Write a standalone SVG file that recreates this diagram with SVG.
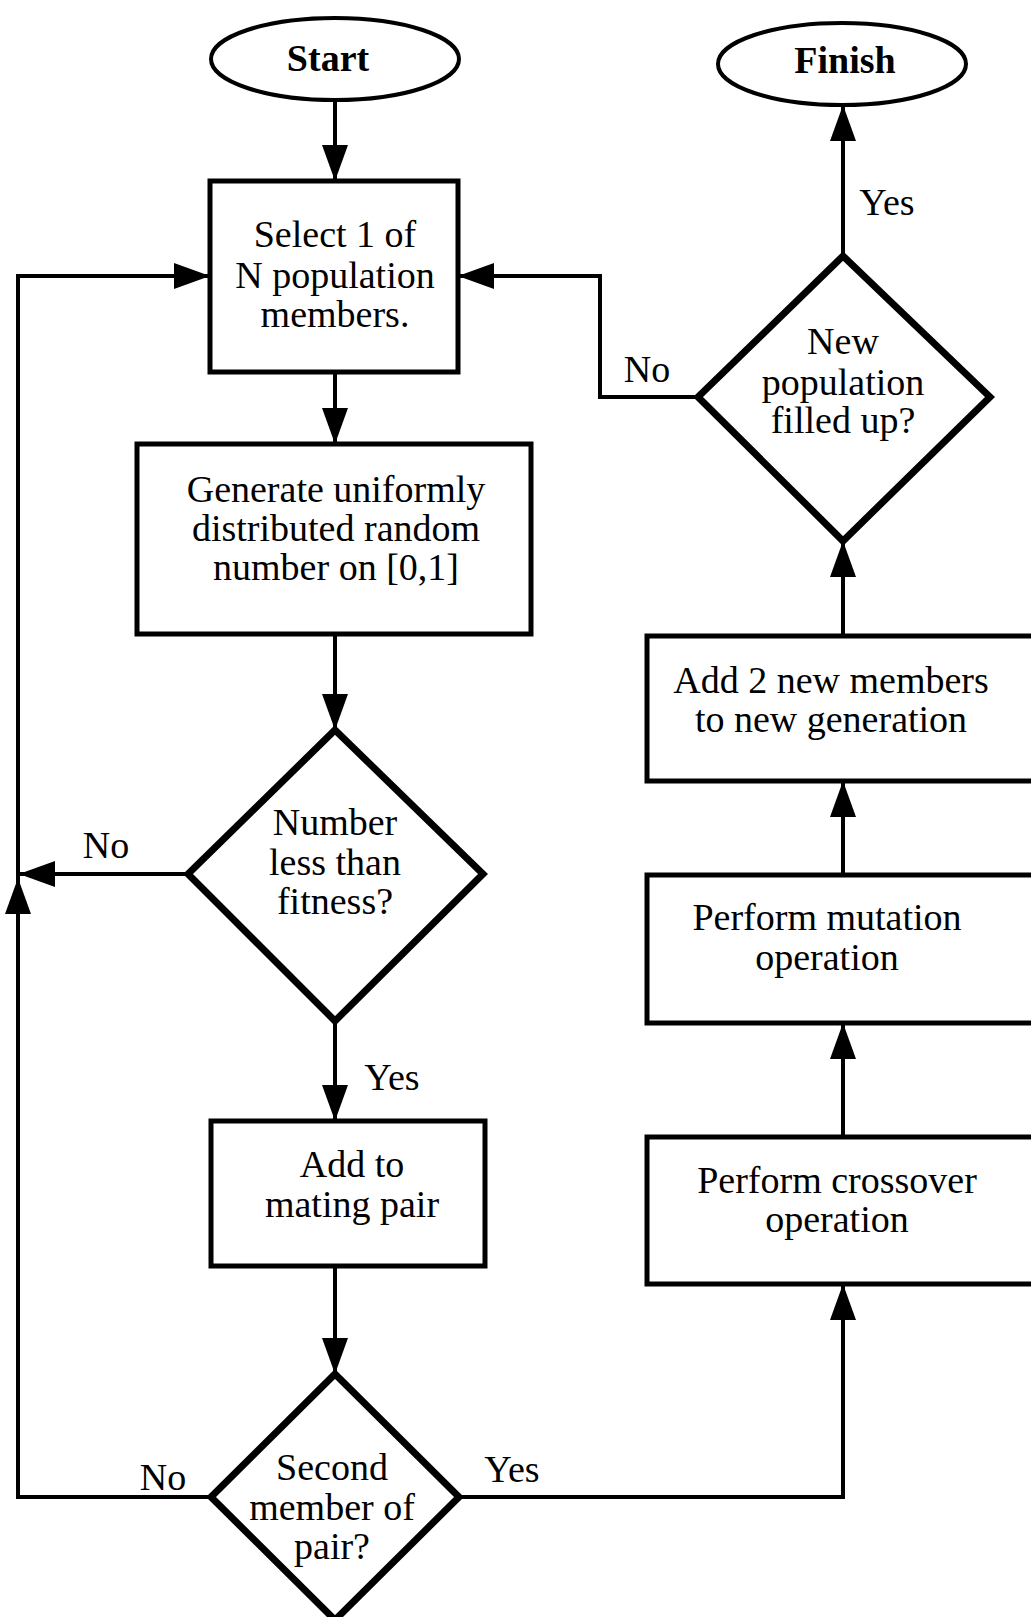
<svg xmlns="http://www.w3.org/2000/svg" width="1031" height="1617" viewBox="0 0 1031 1617">
<style>
.t{font-family:"Liberation Serif","Times New Roman",serif;font-size:38px;fill:#000;text-anchor:middle}
.b{font-weight:bold}
.box{fill:#fff;stroke:#000;stroke-width:5}
.dia{fill:#fff;stroke:#000;stroke-width:7;stroke-linejoin:miter}
.ell{fill:#fff;stroke:#000;stroke-width:4}
.c{fill:none;stroke:#000;stroke-width:4}
</style>
<defs>
<marker id="ah" markerUnits="userSpaceOnUse" markerWidth="36" markerHeight="26" refX="36" refY="13" orient="auto">
<path d="M0,0 L36,13 L0,26 Z" fill="#000"/>
</marker>
</defs>
<rect width="1031" height="1617" fill="#fff"/>
<g id="connectors">
<path class="c" d="M335,100 V181" marker-end="url(#ah)"/>
<path class="c" d="M335,372 V444" marker-end="url(#ah)"/>
<path class="c" d="M335,634 V730" marker-end="url(#ah)"/>
<path class="c" d="M335,1021 V1121" marker-end="url(#ah)"/>
<path class="c" d="M335,1266 V1374" marker-end="url(#ah)"/>
<path class="c" d="M188,874 H19" marker-end="url(#ah)"/>
<path class="c" d="M211,1497 H18 V878" marker-end="url(#ah)"/>
<path class="c" d="M18,878 V276 H210" marker-end="url(#ah)"/>
<path class="c" d="M459,1497 H843 V1284" marker-end="url(#ah)"/>
<path class="c" d="M843,1137 V1023" marker-end="url(#ah)"/>
<path class="c" d="M843,875 V781" marker-end="url(#ah)"/>
<path class="c" d="M843,636 V541" marker-end="url(#ah)"/>
<path class="c" d="M843,256 V105" marker-end="url(#ah)"/>
<path class="c" d="M698,397 H600 V276 H458" marker-end="url(#ah)"/>
<text class="t" x="106" y="858">No</text>
<text class="t" x="392" y="1090">Yes</text>
<text class="t" x="163" y="1490">No</text>
<text class="t" x="512" y="1482">Yes</text>
<text class="t" x="887" y="215">Yes</text>
<text class="t" x="647" y="382">No</text>
</g>
<g id="start">
<ellipse class="ell" cx="335" cy="59" rx="124" ry="41"/>
<text class="t b" x="328" y="71">Start</text>
</g>
<g id="finish">
<ellipse class="ell" cx="842" cy="64" rx="124" ry="41"/>
<text class="t b" x="845" y="73">Finish</text>
</g>
<g id="select">
<rect class="box" x="210" y="181" width="248" height="191"/>
<text class="t" x="335" y="247">Select 1 of</text>
<text class="t" x="335" y="288">N population</text>
<text class="t" x="335" y="327">members.</text>
</g>
<g id="generate">
<rect class="box" x="137" y="444" width="394" height="190"/>
<text class="t" x="336" y="502">Generate uniformly</text>
<text class="t" x="336" y="541">distributed random</text>
<text class="t" x="336" y="580">number on [0,1]</text>
</g>
<g id="fitness">
<polygon class="dia" points="335,730 483,874 335,1021 188,874"/>
<text class="t" x="335" y="835">Number</text>
<text class="t" x="335" y="875">less than</text>
<text class="t" x="335" y="914">fitness?</text>
</g>
<g id="mating">
<rect class="box" x="211" y="1121" width="274" height="145"/>
<text class="t" x="352" y="1177">Add to</text>
<text class="t" x="352" y="1217">mating pair</text>
</g>
<g id="second">
<polygon class="dia" points="335,1374 459,1497 335,1620 211,1497"/>
<text class="t" x="332" y="1480">Second</text>
<text class="t" x="332" y="1520">member of</text>
<text class="t" x="332" y="1559">pair?</text>
</g>
<g id="crossover">
<rect class="box" x="647" y="1137" width="400" height="147"/>
<text class="t" x="837" y="1193">Perform crossover</text>
<text class="t" x="837" y="1232">operation</text>
</g>
<g id="mutation">
<rect class="box" x="647" y="875" width="400" height="148"/>
<text class="t" x="827" y="930">Perform mutation</text>
<text class="t" x="827" y="970">operation</text>
</g>
<g id="addnew">
<rect class="box" x="647" y="636" width="400" height="145"/>
<text class="t" x="831" y="693">Add 2 new members</text>
<text class="t" x="831" y="732">to new generation</text>
</g>
<g id="filled">
<polygon class="dia" points="843,256 990,397 843,541 698,397"/>
<text class="t" x="843" y="354">New</text>
<text class="t" x="843" y="395">population</text>
<text class="t" x="843" y="433">filled up?</text>
</g>
</svg>
